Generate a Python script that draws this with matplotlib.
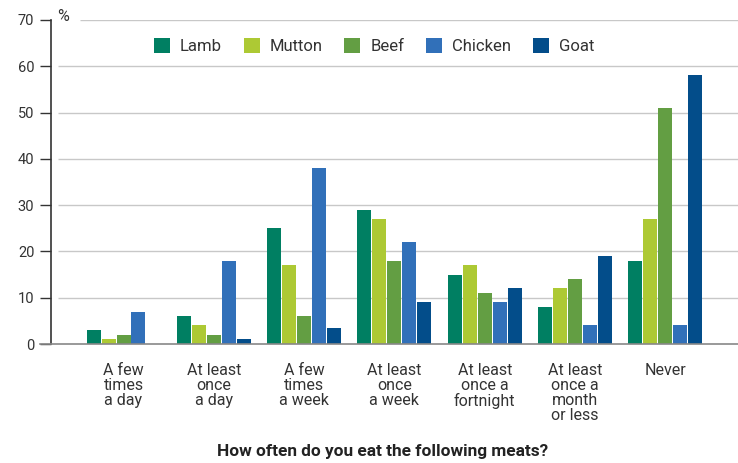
import matplotlib
matplotlib.use("Agg")
import matplotlib.pyplot as plt
import numpy as np
from matplotlib.patches import Patch

# data
categories = ["A few\ntimes\na day", "At least\nonce\na day", "A few\ntimes\na week",
              "At least\nonce\na week", "At least\nonce a\nfortnight",
              "At least\nonce a\nmonth\nor less", "Never"]
series_names = ["Lamb", "Mutton", "Beef", "Chicken", "Goat"]
lamb = [3, 6, 25, 29, 15, 8, 18]
mutton = [1, 4, 17, 27, 17, 12, 27]
beef = [2, 2, 6, 18, 11, 14, 51]
chicken = [7, 18, 38, 22, 9, 4, 4]
goat = [0, 1, 3.5, 9, 12, 19, 58]
yticks = [0, 10, 20, 30, 40, 50, 60, 70]

colors = ["#007f62", "#adc934", "#639e43", "#3170b9", "#034d8a"]
plt.rcParams["font.family"] = ["Roboto", "DejaVu Sans"]

fig = plt.figure(figsize=(7.38, 4.63), dpi=100)
ax = fig.add_axes([0.0691, 0.257, 0.9309, 0.700])

x = np.arange(len(categories))
step = 0.166
width = 0.155
for k, (vals, c) in enumerate(zip([lamb, mutton, beef, chicken, goat], colors)):
    ax.bar(x + (k - 2) * step, vals, width=width, color=c, zorder=3)

ax.set_xlim(-0.803, 6.805)
ax.set_ylim(0, 70)

# gridlines (top one is shortened to leave room for the % sign)
for v in yticks[1:]:
    start = -0.482 if v == 70 else -0.725
    ax.hlines(v, start, 6.805, color="#c8c8c8", lw=1.0, zorder=1)
ax.axhline(0, xmin=-0.016, xmax=1, color="#888888", lw=1.2, zorder=4, clip_on=False)

for s in ["top", "right", "bottom"]:
    ax.spines[s].set_visible(False)
ax.spines["left"].set_color("#333333")
ax.spines["left"].set_linewidth(1.2)

ax.set_yticks(yticks)
ax.tick_params(axis="y", length=8, width=1.0, color="#333333",
               labelcolor="#333333", labelsize=10.5, pad=4)

ax.set_xticks(x)
ax.set_xticklabels(categories, fontsize=11.5, color="#333333",
                   linespacing=1.0, va="top")
ax.tick_params(axis="x", length=0, pad=14)

ax.text(-0.74, 70.8, "%", fontsize=11.5, color="#333333", va="center", ha="left")

fig.text(0.519, 0.025, "How often do you eat the following meats?", ha="center",
         va="center", fontsize=12.4, fontweight="bold", color="#222222")

handles = [Patch(facecolor=c, edgecolor="none") for c in colors]
fig.legend(handles, series_names, loc="center left", bbox_to_anchor=(0.2087, 0.9),
           ncol=5, frameon=False, fontsize=12, handlelength=0.96, handleheight=0.96,
           handletextpad=0.6, columnspacing=1.3, borderpad=0, borderaxespad=0,
           labelcolor="#333333")

fig.savefig("out.png", dpi=100)
